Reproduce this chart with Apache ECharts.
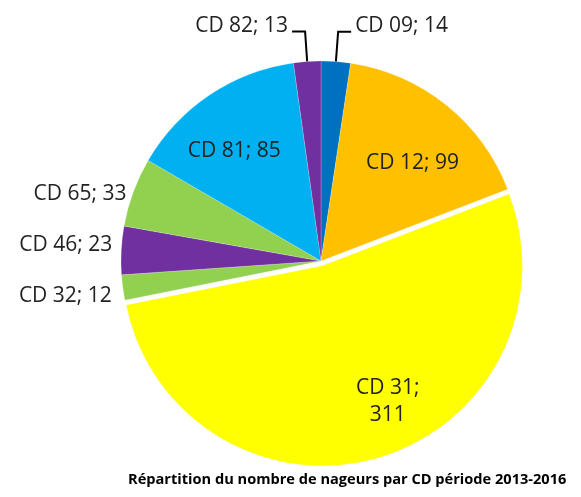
<!DOCTYPE html>
<html>
<head>
<meta charset="utf-8">
<script src="https://cdn.jsdelivr.net/npm/echarts@6/dist/echarts.min.js"></script>
<style>
  html, body { margin: 0; padding: 0; background: #fff; }
  #main { width: 581px; height: 497px; }
</style>
</head>
<body>
<div id="main"></div>
<script>
// données
var categories = ['CD 09', 'CD 12', 'CD 31', 'CD 32', 'CD 46', 'CD 65', 'CD 81', 'CD 82'];
var values = [14, 99, 311, 12, 23, 33, 85, 13];
var colors = ['#0070C0', '#FFC000', '#FFFF00', '#92D050', '#7030A0', '#92D050', '#00B0F0', '#7030A0'];
var insideNames = ['CD 12', 'CD 81', 'CD 31'];
var longLineNames = ['CD 09', 'CD 82'];
var titleText = 'Répartition du nombre de nageurs par CD période 2013-2016';

var chart = echarts.init(document.getElementById('main'));

var fontFamily = '"Open Sans", "Liberation Sans", sans-serif';
var center = [321, 261];
var R = 200;

// petits décalages d'étiquettes pour coller au placement d'Excel
var labelNudge = {
    'CD 12': [2, 14],
    'CD 81': [-7, 9],
    'CD 31': [27, 3],
    'CD 09': [0, -6],
    'CD 82': [0, -6],
    'CD 65': [2, 3],
    'CD 46': [0, -5],
    'CD 32': [-2, 8]
};

// série principale : secteurs + étiquettes extérieures
var mainData = categories.map(function (name, i) {
    var inside = insideNames.indexOf(name) >= 0;
    var longLine = longLineNames.indexOf(name) >= 0;
    return {
        name: name,
        value: values[i],
        selected: name === 'CD 31',
        itemStyle: { color: colors[i] },
        label: inside ? { show: false } : { show: true, offset: labelNudge[name] || [0, 0] },
        labelLine: longLine
            ? { show: true, length: 30, length2: 13 }
            : { show: false, length: 3, length2: 2 }
    };
});

// série transparente pour placer les étiquettes intérieures plus loin du centre
var labelData = categories.map(function (name, i) {
    var inside = insideNames.indexOf(name) >= 0;
    return {
        name: name,
        value: values[i],
        label: inside ? { show: true, offset: labelNudge[name] } : { show: false }
    };
});

var option = {
    backgroundColor: '#fff',
    animation: false,
    title: {
        text: titleText,
        left: 123,
        top: 467,
        textStyle: {
            fontFamily: fontFamily,
            fontSize: 14.6,
            fontWeight: 'bold',
            color: '#000'
        }
    },
    series: [
        {
            name: 'nageurs',
            type: 'pie',
            center: center,
            radius: R,
            startAngle: 90,
            clockwise: true,
            selectedMode: 'single',
            selectedOffset: 5,
            avoidLabelOverlap: false,
            itemStyle: { borderColor: 'rgba(255,255,255,0.4)', borderWidth: 0.5 },
            label: {
                position: 'outside',
                formatter: '{b}; {c}',
                fontFamily: fontFamily,
                fontSize: 21,
                color: '#222',
                distanceToLabelLine: 4
            },
            labelLine: {
                lineStyle: { color: '#000', width: 2 },
                smooth: false
            },
            emphasis: { disabled: true },
            data: mainData
        },
        {
            name: 'labels',
            type: 'pie',
            center: center,
            radius: [R * 0.4, R],
            startAngle: 90,
            clockwise: true,
            silent: true,
            itemStyle: { color: 'rgba(0,0,0,0)' },
            label: {
                position: 'inside',
                formatter: function (p) {
                    return p.name === 'CD 31' ? p.name + ';\n' + p.value : p.name + '; ' + p.value;
                },
                fontFamily: fontFamily,
                fontSize: 21,
                lineHeight: 27,
                color: '#222'
            },
            labelLine: { show: false },
            emphasis: { disabled: true },
            data: labelData
        }
    ]
};

chart.setOption(option);
</script>
</body>
</html>
